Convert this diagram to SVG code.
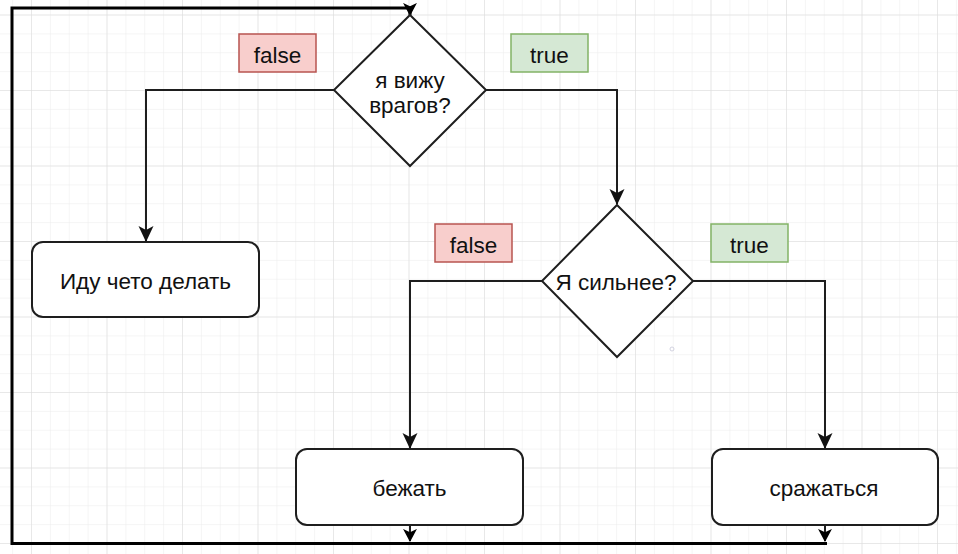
<svg xmlns="http://www.w3.org/2000/svg" width="958" height="554" viewBox="0 0 958 554">
<style>
.t{font-family:"Liberation Sans",Arial,sans-serif;font-size:22.5px;fill:#111;text-anchor:middle}
.shape{fill:#fff;stroke:#1e1e1e;stroke-width:2}
.edge{fill:none;stroke:#1e1e1e;stroke-width:2}
.loop{fill:none;stroke:#000;stroke-width:3}
.lf{fill:#f8cecc;stroke:#b85450;stroke-width:1.5}
.lt{fill:#d5e8d4;stroke:#82b366;stroke-width:1.5}
</style>
<defs>
<pattern id="minor" patternUnits="userSpaceOnUse" x="31" y="14.5" width="18.875" height="18.875">
<path d="M0,0 H18.875 M0,0 V18.875" fill="none" stroke="#ebebeb" stroke-width="1"/>
</pattern>
<pattern id="major" patternUnits="userSpaceOnUse" x="31" y="14.5" width="75.5" height="75.5">
<path d="M0,0 H75.5 M0,0 V75.5" fill="none" stroke="#dcdcdc" stroke-width="1"/>
</pattern>
<marker id="arr" markerUnits="userSpaceOnUse" viewBox="0 0 16 16" markerWidth="16" markerHeight="16" refX="15" refY="8" orient="auto">
<path d="M0,0.5 L16,8 L0,15.5 L4,8 Z" fill="#111"/>
</marker>
<marker id="arrs" markerUnits="userSpaceOnUse" viewBox="0 0 14 16" markerWidth="13" markerHeight="15" refX="13" refY="8" orient="auto">
<path d="M0,0.5 L14,8 L0,15.5 L3.5,8 Z" fill="#000"/>
</marker>
</defs>
<rect width="958" height="554" fill="#fff"/>
<rect width="958" height="554" fill="url(#minor)"/>
<rect width="958" height="554" fill="url(#major)"/>
<g id="connectors">
<path class="edge" d="M334,90 H146 V241" marker-end="url(#arr)"/>
<path class="edge" d="M486,90 H617 V204" marker-end="url(#arr)"/>
<path class="edge" d="M542,281 H410 V448" marker-end="url(#arr)"/>
<path class="edge" d="M693,281 H825 V448" marker-end="url(#arr)"/>
<path class="edge" d="M410,525 V541" marker-end="url(#arrs)"/>
<path class="edge" d="M825,525 V541" marker-end="url(#arrs)"/>
<path class="loop" d="M827,543.5 H12 V8 H410 V15" marker-end="url(#arrs)"/>
</g>
<g id="label-false-1"><rect class="lf" x="239" y="34" width="77" height="38"/><text class="t" x="277.5" y="63">false</text></g>
<g id="label-true-1"><rect class="lt" x="511" y="34" width="77" height="38"/><text class="t" x="549.5" y="63">true</text></g>
<g id="label-false-2"><rect class="lf" x="435" y="224" width="77" height="38"/><text class="t" x="473.5" y="253">false</text></g>
<g id="label-true-2"><rect class="lt" x="711" y="224" width="77" height="38"/><text class="t" x="749.5" y="253">true</text></g>
<g id="decision-1"><path class="shape" d="M410,15 L486,90 L410,166 L334,90 Z"/><text class="t" x="410" y="88">я вижу</text><text class="t" x="410" y="113">врагов?</text></g>
<g id="decision-2"><path class="shape" d="M617,205 L693,281 L617,357 L542,281 Z"/><text class="t" x="616" y="290">Я сильнее?</text></g>
<g id="node-idu"><rect class="shape" x="32" y="242" width="227" height="75" rx="11"/><text class="t" x="145.5" y="289">Иду чето делать</text></g>
<g id="node-bezhat"><rect class="shape" x="296" y="449" width="227" height="76" rx="11"/><text class="t" x="409.5" y="496">бежать</text></g>
<g id="node-srazhatsya"><rect class="shape" x="712" y="449" width="226" height="76" rx="11"/><text class="t" x="824" y="496">сражаться</text></g>
<circle cx="672" cy="349" r="2" fill="none" stroke="#c8c8d8" stroke-width="0.8"/>
</svg>
